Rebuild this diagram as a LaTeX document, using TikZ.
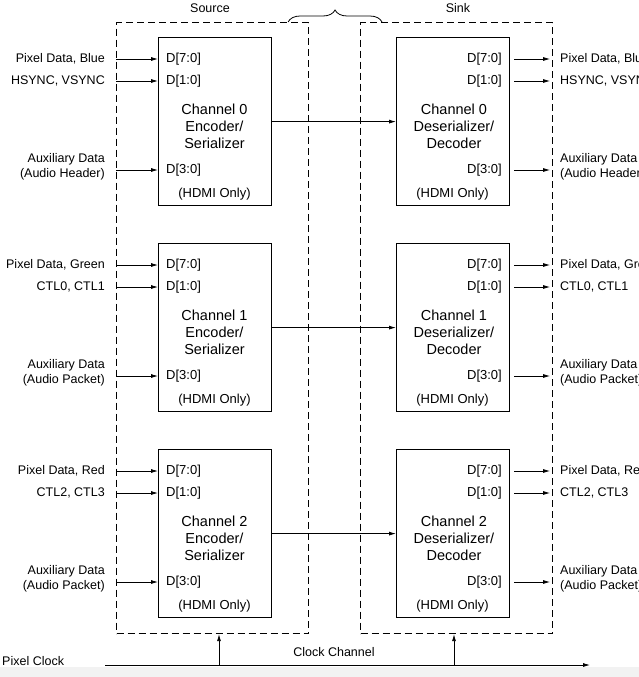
\documentclass[tikz,border=0pt]{standalone}
\usepackage{fontspec}
\setmainfont{Liberation Sans}
\usetikzlibrary{positioning,arrows.meta,decorations.pathreplacing}

\tikzset{
  frame/.style={draw, dash pattern=on 7pt off 4pt, line width=1.1pt,
    minimum width=192pt, minimum height=611pt, anchor=north west, inner sep=0pt},
  chbox/.style={draw, line width=1.2pt, minimum width=113pt,
    minimum height=168pt, anchor=north west, inner sep=0pt},
  port/.style={font=\fontsize{13}{15}\selectfont, inner sep=0pt},
  sig/.style={font=\fontsize{12.5}{15}\selectfont, inner sep=0pt},
  chtext/.style={font=\fontsize{14.5}{17}\selectfont, inner sep=0pt, align=center},
  link/.style={line width=0.8pt, -{Latex[length=7pt,width=4pt]}}
}

\begin{document}
\begin{tikzpicture}[x=1pt, y=-1pt]
    \useasboundingbox (0,0) rectangle (639,677);
    \fill[gray!10] (0,667) rectangle (639,677);

    % source and sink frames
    \node[frame] (src) at (116,22) {};
    \node[frame] (snk) at (360,22) {};
    \node[sig] (srctitle) at (210,8) {Source};
    \node[sig] (snktitle) at (458,8) {Sink};
    \draw[decorate, decoration={brace, amplitude=12pt}, line width=0.8pt]
        ([xshift=-21pt]src.north east) -- ([xshift=22pt]snk.north west);

    % the three TMDS channels
    \foreach \i/\col/\ctl/\aux in {0/Blue/{HSYNC, VSYNC}/Header,
                                   1/Green/{CTL0, CTL1}/Packet,
                                   2/Red/{CTL2, CTL3}/Packet} {
        \pgfmathsetmacro\ytop{37+206*\i}
        \node[chbox] (enc\i) at (158,\ytop) {};
        \node[chbox] (dec\i) at (396,\ytop) {};

        % encoder side
        \node[port, anchor=west] (ea\i) at (166,\ytop+22) {D[7:0]};
        \node[port, anchor=west] (eb\i) at (166,\ytop+44) {D[1:0]};
        \node[port, anchor=west] (ec\i) at (166,\ytop+133) {D[3:0]};
        \node[chtext] (et\i) at (214.5,\ytop+89) {Channel \i\\Encoder/\\Serializer};
        \node[port] (eh\i) at (214.5,\ytop+157) {(HDMI Only)};

        % decoder side
        \node[port, anchor=east] (da\i) at (502,\ytop+22) {D[7:0]};
        \node[port, anchor=east] (db\i) at (502,\ytop+44) {D[1:0]};
        \node[port, anchor=east] (dc\i) at (502,\ytop+133) {D[3:0]};
        \node[chtext] (dt\i) at (454,\ytop+89) {Channel \i\\Deserializer/\\Decoder};
        \node[port] (dh\i) at (452.5,\ytop+157) {(HDMI Only)};

        % input signals
        \node[sig, anchor=east] (ipd\i) at (105,\ytop+22) {Pixel Data, \col};
        \node[sig, anchor=east] (ictl\i) at (105,\ytop+44) {\ctl};
        \node[sig, anchor=east, align=right] (iaux\i) at (105,\ytop+130)
            {Auxiliary Data\\(Audio \aux)};

        % output signals
        \node[sig, anchor=west] (opd\i) at (560,\ytop+22) {Pixel Data, \col};
        \node[sig, anchor=west] (octl\i) at (560,\ytop+44) {\ctl};
        \node[sig, anchor=west, align=left] (oaux\i) at (560,\ytop+130)
            {Auxiliary Data\\(Audio \aux)};

        \draw[link] (src.west |- ea\i) -- (enc\i.west |- ea\i);
        \draw[link] (src.west |- eb\i) -- (enc\i.west |- eb\i);
        \draw[link] (src.west |- ec\i) -- (enc\i.west |- ec\i);
        \draw[link] (enc\i.east) -- (dec\i.west);
        \draw[link] ([xshift=4pt]dec\i.east |- da\i) -- ([xshift=-3pt]snk.east |- da\i);
        \draw[link] ([xshift=4pt]dec\i.east |- db\i) -- ([xshift=-3pt]snk.east |- db\i);
        \draw[link] ([xshift=4pt]dec\i.east |- dc\i) -- ([xshift=-3pt]snk.east |- dc\i);
    }

    % clock channel
    \node[sig, anchor=west] (pclk) at (2,661) {Pixel Clock};
    \node[sig] (clkch) at (334,652) {Clock Channel};
    \coordinate (clkin) at (105,665);
    \coordinate (clkout) at (590,665);
    \coordinate (tap0) at (219,665);
    \coordinate (tap1) at (454,665);
    \draw[link] (clkin) -- (clkout);
    \draw[link] (tap0) -- (tap0 |- src.south);
    \draw[link] (tap1) -- (tap1 |- snk.south);

\end{tikzpicture}
\end{document}
